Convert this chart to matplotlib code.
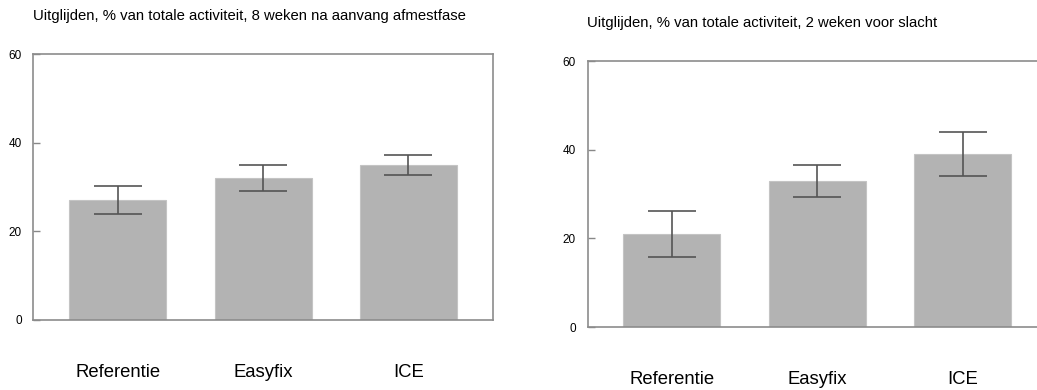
import numpy as np
import matplotlib.pyplot as plt

plt.rcParams['font.family'] = ['Liberation Sans', 'DejaVu Sans']

groepen = ["Referentie", "Easyfix", "ICE"]

# 8 weken na aanvang afmestfase
gem_afmest = [27.0, 32.0, 35.0]
se_afmest = [3.2, 3.0, 2.2]

# 2 weken voor slacht
gem_slacht = [21.0, 33.0, 39.0]
se_slacht = [5.1, 3.65, 4.9]

titels = ["Uitglijden, % van totale activiteit, 8 weken na aanvang afmestfase",
          "Uitglijden, % van totale activiteit, 2 weken voor slacht"]

fig = plt.figure(figsize=(10.37, 3.90), dpi=100)

ax1 = fig.add_axes([0.0323, 0.1795, 0.4428, 0.682])
ax2 = fig.add_axes([0.5667, 0.1615, 0.4429, 0.682])  # loopt rechts van de rand af


def staafplot(ax, gem, se):
    x = np.arange(len(groepen))
    ax.bar(x, gem, width=0.667, color="#b3b3b3", edgecolor="#c4c4c4",
           linewidth=0.8, zorder=2)
    ax.errorbar(x, gem, yerr=se, fmt="none", ecolor="#555555",
                elinewidth=1.2, capsize=17.3, capthick=1.2, zorder=3)
    ax.set_xlim(-0.58, 2.58)
    ax.set_ylim(0, 60)
    ax.set_yticks([0, 20, 40, 60])
    ax.tick_params(axis="y", direction="in", length=5, width=1,
                   color="#888888", pad=8.5, labelsize=8.5)
    ax.set_xticks(x, groepen)
    ax.tick_params(axis="x", length=0, pad=32, labelsize=13.3)
    for s in ax.spines.values():
        s.set_color("#8c8c8c")
        s.set_linewidth(1.2)


staafplot(ax1, gem_afmest, se_afmest)
staafplot(ax2, gem_slacht, se_slacht)

fig.text(0.0315, 0.960, titels[0], fontsize=10.7, va="center", ha="left")
fig.text(0.5658, 0.941, titels[1], fontsize=10.7, va="center", ha="left")

fig.savefig("out.png", dpi=100)
